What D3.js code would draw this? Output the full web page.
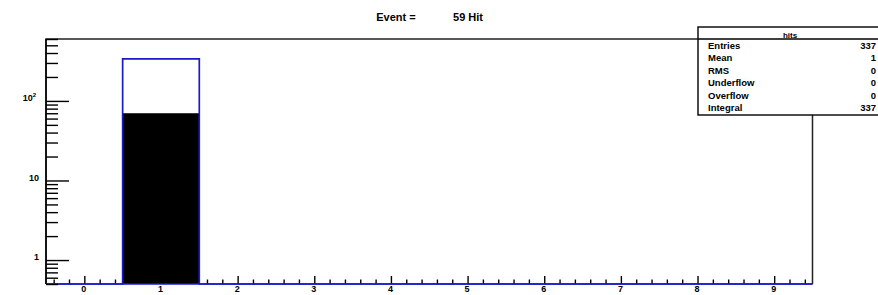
<!DOCTYPE html>
<html><head><meta charset="utf-8">
<script src="https://cdn.jsdelivr.net/npm/d3@7"></script>
<style>
body{margin:0;background:#fff;}
text{font-family:"Liberation Sans",Arial,sans-serif;font-weight:bold;}
</style></head>
<body><svg id="c" width="878" height="295"></svg>
<script>
const bins = [0,1,2,3,4,5,6,7,8,9];
const hitsAll = [0,337,0,0,0,0,0,0,0,0];
const hitsFilled = [0,70,0,0,0,0,0,0,0,0];
const xTickLabels = ["0","1","2","3","4","5","6","7","8","9"];
const yMajorTicks = [1,10,100];
const yMajorLabels = ["1","10","10\u00b2"];
const statNames = ["Entries","Mean","RMS","Underflow","Overflow","Integral"];
const statValues = ["337","1","0","0","0","337"];
const histName = "hits";
const titleLeft = "Event =";
const titleRight = "59 Hit";

const svg = d3.select("#c");
const L=46,R=812.5,T=39,B=284;
const x = d3.scaleLinear().domain([-0.5,9.5]).range([L,R]);
const y = d3.scaleLog().domain([0.5,600]).range([B,T]);

// title
svg.append("text").attr("x",396).attr("y",21).attr("text-anchor","middle").attr("font-size",11).text(titleLeft);
svg.append("text").attr("x",468).attr("y",21).attr("text-anchor","middle").attr("font-size",11).text(titleRight);

// histogram filled
const bw = x(1)-x(0);
svg.append("g").selectAll("rect").data(bins.filter((b,i)=>hitsFilled[i]>0)).join("rect")
  .attr("x",d=>x(d-0.5)).attr("width",bw)
  .attr("y",d=>y(hitsFilled[d])).attr("height",d=>B-y(hitsFilled[d]))
  .attr("fill","#000");

// outline histogram (step)
const pts=[];
bins.forEach((b,i)=>{
  const v = hitsAll[i]>0 ? y(hitsAll[i]) : B;
  pts.push([x(b-0.5),v]); pts.push([x(b+0.5),v]);
});
svg.append("path").attr("d",d3.line()(pts)).attr("fill","none").attr("stroke","#1a1acc").attr("stroke-width",1.7);

// frame
svg.append("path").attr("d",`M${L},${B}V${T}H${R}V${B}`).attr("fill","none").attr("stroke","#222").attr("stroke-width",1.5);

// x axis ticks
const xMinor = d3.range(-24,48).map(i=>i*0.2).filter(v=>v>-0.5&&v<9.5&&Math.abs(v-Math.round(v))>1e-6);
const xa = svg.append("g").attr("transform",`translate(0,${B})`);
xa.call(d3.axisBottom(x).tickValues(xMinor).tickSize(-4.5).tickFormat(""));
xa.append("g").call(d3.axisBottom(x).tickValues(bins).tickSize(-8).tickFormat((d,i)=>xTickLabels[i]));
xa.selectAll(".domain").remove();
xa.selectAll("line").attr("stroke","#000").attr("stroke-width",1.4);
xa.selectAll("text").attr("font-size",9).attr("x",-1).attr("y",2).attr("dy","0.71em").attr("fill","#000").attr("font-family","Liberation Sans, Arial, sans-serif").attr("font-weight","bold");
// bottom line blue
svg.append("line").attr("x1",L).attr("x2",R).attr("y1",B).attr("y2",B).attr("stroke","#1a1acc").attr("stroke-width",1.7);

// y axis
const yMinor=[];
[0.1,1,10,100].forEach(dec=>{for(let k=2;k<=9;k++){const v=k*dec; if(v>=0.5&&v<=600) yMinor.push(v);}});
const ya = svg.append("g").attr("transform",`translate(${L},0)`);
ya.call(d3.axisRight(y).tickValues(yMinor).tickSize(12).tickFormat(""));
ya.append("g").call(d3.axisRight(y).tickValues(yMajorTicks).tickSize(23).tickFormat(""));
ya.selectAll(".domain").remove();
ya.selectAll("line").attr("stroke","#000").attr("stroke-width",1.4);
svg.append("line").attr("x1",L).attr("x2",L).attr("y1",T).attr("y2",B).attr("stroke","#000").attr("stroke-width",1.5);
yMajorTicks.forEach((v,i)=>{
  const t = svg.append("text").attr("x",39).attr("y",y(v)).attr("dy","0.05em").attr("text-anchor","end").attr("font-size",9);
  if(v===100){ t.text("10"); t.append("tspan").attr("dy","-4").attr("font-size",6).text("2"); t.attr("x",36); }
  else t.text(yMajorLabels[i]);
});

// stats box
const bx=698, by=27, bwid=186, bh=88;
svg.append("rect").attr("x",bx).attr("y",by).attr("width",bwid).attr("height",bh).attr("fill","#fff").attr("stroke","#000").attr("stroke-width",1.4);
svg.append("line").attr("x1",bx).attr("x2",bx+bwid).attr("y1",39).attr("y2",39).attr("stroke","#000").attr("stroke-width",1.4);
svg.append("text").attr("x",790).attr("y",37.5).attr("text-anchor","middle").attr("font-size",8).text(histName);
const rowY = d3.scaleLinear().domain([0,statNames.length-1]).range([49,111]);
statNames.forEach((n,i)=>{
  svg.append("text").attr("x",708).attr("y",rowY(i)).attr("font-size",9.5).text(n);
  svg.append("text").attr("x",876).attr("y",rowY(i)).attr("text-anchor","end").attr("font-size",9.5).text(statValues[i]);
});
</script></body></html>
